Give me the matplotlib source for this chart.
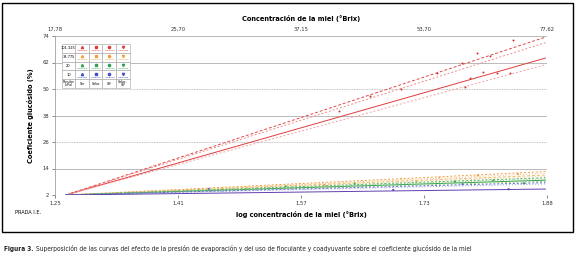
import matplotlib
matplotlib.use("Agg")
import matplotlib.pyplot as plt
from matplotlib.patches import Rectangle
from matplotlib.lines import Line2D

# data
x_ends = [1.264, 1.888]
y_start = 2.0
line_ends = [73.5, 71.0, 64.0, 61.0,
             12.6, 11.8, 11.0, 10.4,
             9.8, 9.3, 8.7, 8.2,
             7.6, 7.0, 4.7]
line_cols = ['#e04848', '#f08a8a', '#e03c3c', '#f5a0a0',
             '#f0a040', '#f5b080', '#e8c060', '#f0c8a0',
             '#50b060', '#90c860', '#30a050', '#a0d080',
             '#6070d0', '#9090e0', '#6040b0']
line_styles = [(0, (3, 2)), (0, (2, 2)), '-', (0, (2, 2)),
               (0, (2, 2)), (0, (1, 2)), (0, (3, 2)), (0, (1, 2)),
               (0, (2, 2)), (0, (1, 2)), '-', (0, (2, 2)),
               (0, (2, 2)), (0, (1, 2)), '-']

red_pts_x = [1.846, 1.799, 1.747, 1.779, 1.816, 1.783, 1.825, 1.790, 1.842, 1.807, 1.70, 1.66, 1.62]
red_pts_y = [72.1, 66.2, 57.2, 61.7, 64.9, 50.9, 57.2, 55.0, 57.2, 57.7, 50.0, 47.0, 40.0]
low_pts_x = [1.852, 1.80, 1.75, 1.70, 1.82, 1.77, 1.72, 1.86, 1.64, 1.78, 1.84, 1.69, 1.60, 1.55, 1.50, 1.45]
low_pts_y = [11.5, 10.9, 9.8, 9.4, 8.6, 8.1, 7.9, 7.3, 7.2, 6.9, 4.6, 4.3, 6.4, 5.9, 5.3, 4.8]
low_pts_c = ['#f0a040', '#f0a040', '#f5b080', '#e8c060', '#50b060', '#30a050', '#90c860',
             '#30a050', '#50b060', '#6070d0', '#6040b0', '#6040b0', '#f0a040', '#50b060',
             '#e8c060', '#6070d0']

y_ticks = [2, 14, 26, 38, 50, 62, 74]
x_ticks = [1.25, 1.41, 1.57, 1.73, 1.89]
x_labels = ['1.25', '1.41', '1.57', '1.73', '1.88']
top_labels = ['17,78', '25,70', '37,15', '53,70', '77,62']

table_rows = ['101.325', '33.775', '20', '10']
table_cols = ['Sin', 'Sebo', 'SIF', 'Sebo-\nSIF']
row_cols = ['#e03c3c', '#f0a040', '#30a050', '#4050c0']
cell_marks = ['^', 's', 'o', 'v']

W, H = 577, 262
fig = plt.figure(figsize=(W / 100, H / 100), dpi=100)
ax = fig.add_axes([55 / W, 1 - 195 / H, 492 / W, 159 / H])

for end, c, ls in zip(line_ends, line_cols, line_styles):
    ax.plot(x_ends, [y_start, end], color=c, ls=ls, lw=0.7, zorder=3)
ax.scatter(red_pts_x, red_pts_y, s=2, color='#d03030', zorder=4, lw=0)
ax.scatter(low_pts_x, low_pts_y, s=2.5, color=low_pts_c, zorder=4, lw=0)

ax.set_xlim(1.25, 1.89)
ax.set_ylim(2, 74)
ax.set_xticks(x_ticks)
ax.set_xticklabels(x_labels, fontsize=3.8)
ax.set_yticks(y_ticks)
ax.set_yticklabels([str(v) for v in y_ticks], fontsize=3.8)
ax.tick_params(length=2, width=0.4, pad=2, colors='#333333')
for v in y_ticks:
    if v in (14, 38, 62, 74):
        ax.axhline(v, color='#b0b0b0', lw=0.6, zorder=1)
    else:
        ax.axhline(v, color='#b0b0b0', lw=0.6, ls=(0, (1, 1)), zorder=1)
for s in ['right', 'bottom', 'top']:
    ax.spines[s].set_visible(False)
ax.spines['left'].set_color('#a0a0a0')
ax.spines['left'].set_linewidth(0.6)

ax.set_xlabel('log concentración de la miel (°Brix)', fontsize=4.8, fontweight='bold', labelpad=4)
ax.set_ylabel('Coeficiente glucósido (%)', fontsize=4.8, fontweight='bold', labelpad=6)

axt = ax.twiny()
axt.set_xlim(ax.get_xlim())
axt.set_xticks(x_ticks)
axt.set_xticklabels(top_labels, fontsize=3.8)
axt.tick_params(length=0, pad=3, colors='#333333')
for s in axt.spines.values():
    s.set_visible(False)
axt.set_xlabel('Concentración de la miel (°Brix)', fontsize=4.8, fontweight='bold', labelpad=4)

# legend table
tx0, tx1 = 0.014, 0.152
ty0, ty1 = 0.673, 0.95
hw = 0.027
cw = (tx1 - tx0 - hw) / 4
rh = (ty1 - ty0) / 5
tr = ax.transAxes
for r in range(5):
    for c in range(5):
        x = tx0 if c == 0 else tx0 + hw + (c - 1) * cw
        w = hw if c == 0 else cw
        y = ty1 - (r + 1) * rh
        ax.add_patch(Rectangle((x, y), w, rh, transform=tr, fill=True, fc='white',
                               ec='#a0a0a0', lw=0.4, zorder=5))
        if r < 4 and c == 0:
            ax.text(x + w / 2, y + rh / 2, table_rows[r], transform=tr, fontsize=2.6,
                    ha='center', va='center', zorder=6)
        elif r == 4 and c == 0:
            ax.text(x + w / 2, y + rh / 2, 'Presión\n(kPa)', transform=tr, fontsize=2.3,
                    ha='center', va='center', zorder=6, linespacing=0.9)
        elif r == 4:
            ax.text(x + w / 2, y + rh / 2, table_cols[c - 1], transform=tr, fontsize=2.4,
                    ha='center', va='center', zorder=6, linespacing=0.9)
        else:
            col = row_cols[r]
            ax.add_line(Line2D([x + w / 2], [y + rh * 0.62], transform=tr, marker=cell_marks[c - 1],
                               ms=1.6, color=col, lw=0, zorder=6))
            ax.add_line(Line2D([x + w * 0.15, x + w * 0.85], [y + rh * 0.3] * 2, transform=tr,
                               color=col, lw=0.4, ls=(0, (2, 1)), zorder=6))

# outer frame and annotations
fig.add_artist(Rectangle((2 / W, 1 - 232 / H), 571 / W, 229 / H, transform=fig.transFigure,
                         fill=False, ec='black', lw=1.0))
fig.text(15 / W, 1 - 213 / H, 'PRADA I.E.', fontsize=3.6, va='center', ha='left')

# caption, shrunk until it ends where the reference one does
cap_y = 1 - 249 / H
cap = ('Superposición de las curvas del efecto de la presión de evaporación y del uso de floculante '
       'y coadyuvante sobre el coeficiente glucósido de la miel')
fs = 6.5
t1 = fig.text(4 / W, cap_y, 'Figura 3.', fontsize=fs, fontweight='bold', fontstretch='condensed',
              va='center', color='#222222')
t2 = fig.text(0, cap_y, cap, fontsize=fs, fontstretch='condensed', va='center', color='#222222')
for _ in range(6):
    fig.canvas.draw()
    b1 = t1.get_window_extent()
    t2.set_x((b1.x1 + 3) / W)
    fig.canvas.draw()
    b2 = t2.get_window_extent()
    if b2.x1 <= 480:
        break
    fs *= (476 - 4) / (b2.x1 - 4)
    t1.set_fontsize(fs)
    t2.set_fontsize(fs)

fig.savefig('out.png', dpi=100)
